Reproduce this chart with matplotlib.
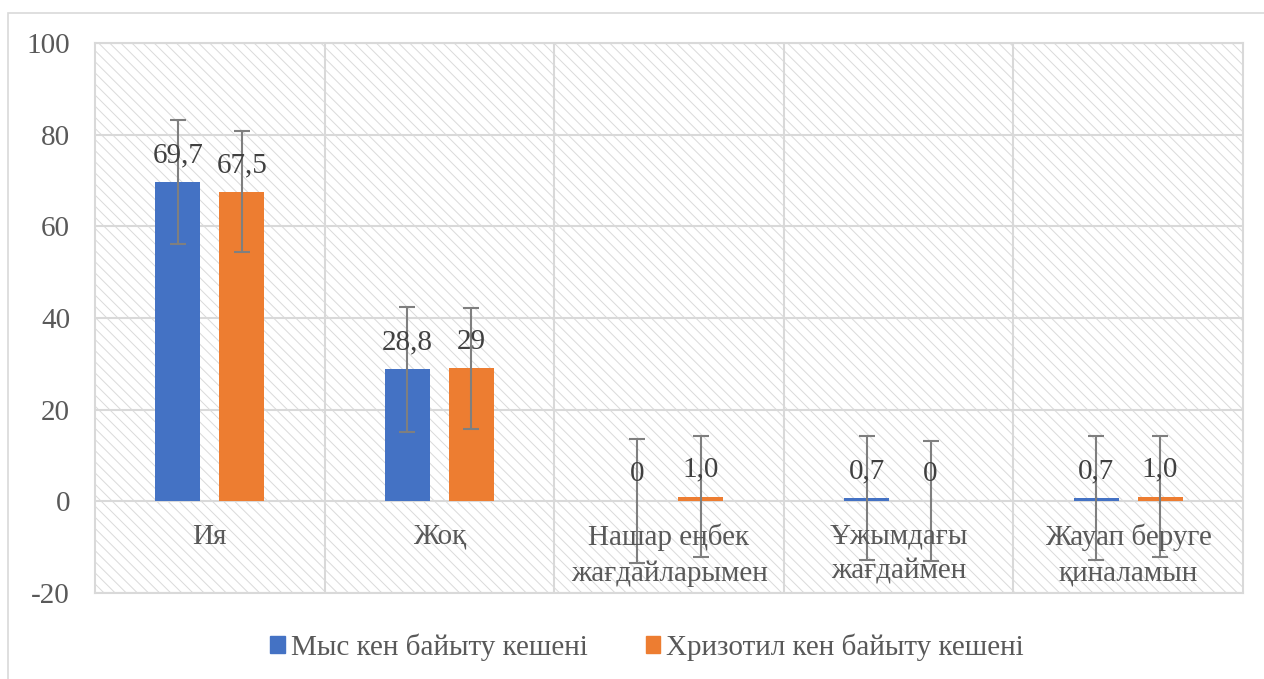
import matplotlib
matplotlib.use("Agg")
import matplotlib.pyplot as plt
import numpy as np
from matplotlib.patches import Rectangle, Patch

plt.rcParams['font.family'] = ['Liberation Serif', 'DejaVu Serif']
plt.rcParams['hatch.color'] = '#dadada'
plt.rcParams['hatch.linewidth'] = 0.7

# data
categories = ["Ия", "Жоқ", "Нашар еңбек\nжағдайларымен", "Ұжымдағы\nжағдаймен", "Жауап беруге\nқиналамын"]
series_names = ["Мыс кен байыту кешені", "Хризотил кен байыту кешені"]
copper = [69.7, 28.8, 0.0, 0.7, 0.7]
chrysotile = [67.5, 29.0, 1.0, 0.0, 1.0]
copper_err = [13.6, 13.6, 13.5, 13.5, 13.5]
chrysotile_err = [13.2, 13.2, 13.2, 13.1, 13.2]
copper_labels = ["69,7", "28,8", "0", "0,7", "0,7"]
chrysotile_labels = ["67,5", "29", "1,0", "0", "1,0"]
yticks = [-20, 0, 20, 40, 60, 80, 100]

blue = "#4472C4"
orange = "#ED7D31"
grid_c = "#d9d9d9"
txt_c = "#595959"
fs = 21

fig = plt.figure(figsize=(12.64, 6.79), dpi=100)
ax = fig.add_axes([95/1264, 1-593/679, (1243-95)/1264, (593-43)/679])

# outer chart frame
fig.patches.append(Rectangle((8/1264, -0.05), 1.2, 1-13/679+0.05, transform=fig.transFigure,
                             fill=False, edgecolor=grid_c, linewidth=1.2, zorder=0))

x = np.arange(len(categories))
off = 0.139
w = 0.196

ax.set_xlim(-0.5, len(categories)-0.5)
ax.set_ylim(-20, 100)

# hatched plot area
ax.add_patch(Rectangle((0, 0), 1, 1, transform=ax.transAxes, facecolor='white',
                       hatch='\\\\\\', edgecolor='#dadada', linewidth=0, zorder=0))

for yt in yticks:
    ax.axhline(yt, color=grid_c, linewidth=1.5, zorder=1)
for b in np.arange(0.5, len(categories)-0.5, 1):
    ax.axvline(b, color=grid_c, linewidth=1.5, zorder=1)

ax.bar(x-off, copper, w, color=blue, zorder=2)
ax.bar(x+off, chrysotile, w, color=orange, zorder=2)
ax.errorbar(x-off, copper, yerr=copper_err, fmt='none', ecolor='#7f7f7f', elinewidth=1.5,
            capsize=6, capthick=1.5, zorder=3)
ax.errorbar(x+off, chrysotile, yerr=chrysotile_err, fmt='none', ecolor='#7f7f7f', elinewidth=1.5,
            capsize=6, capthick=1.5, zorder=3)

for xi, v, lab in zip(x-off, copper, copper_labels):
    ax.annotate(lab, (xi, v), xytext=(0, 10), textcoords='offset points', ha='center',
                va='bottom', fontsize=fs, color='#404040', zorder=4)
for xi, v, lab in zip(x+off, chrysotile, chrysotile_labels):
    ax.annotate(lab, (xi, v), xytext=(0, 10), textcoords='offset points', ha='center',
                va='bottom', fontsize=fs, color='#404040', zorder=4)

for xi, c in zip(x, categories):
    ax.annotate(c, (xi, 0), xytext=(0, -16), textcoords='offset points', ha='center',
                va='top', fontsize=fs, color=txt_c, linespacing=1.45, zorder=4)

ax.set_xticks([])
ax.set_yticks(yticks)
ax.set_yticklabels([str(t) for t in yticks], fontsize=fs, color=txt_c)
ax.tick_params(axis='y', length=0, pad=18)
for s in ax.spines.values():
    s.set_color(grid_c)
    s.set_linewidth(1.5)

handles = [Patch(color=blue), Patch(color=orange)]
fig.legend(handles, series_names, loc='center', bbox_to_anchor=(647/1264, 1-647/679),
           ncol=2, frameon=False, fontsize=fs, handlelength=0.5, handleheight=0.5,
           handletextpad=0.2, columnspacing=2.0, labelcolor=txt_c)

fig.savefig("out.png", dpi=100)
